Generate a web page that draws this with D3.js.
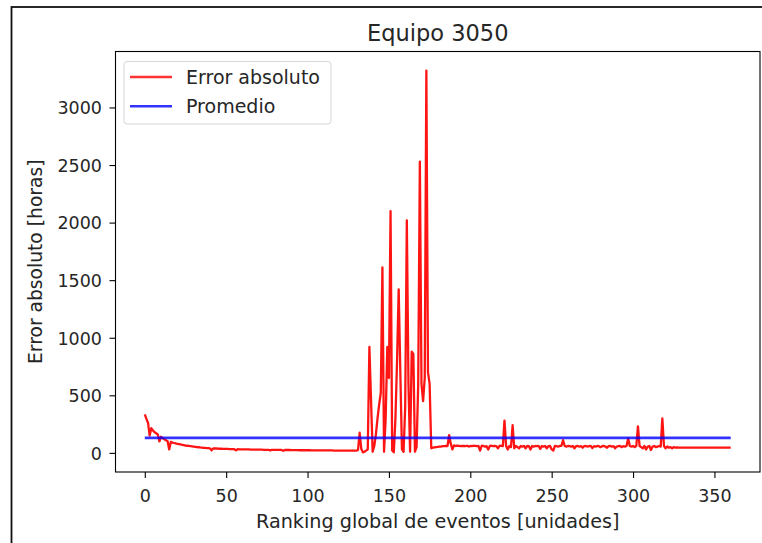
<!DOCTYPE html>
<html>
<head>
<meta charset="utf-8">
<script src="https://cdn.jsdelivr.net/npm/d3@7"></script>
<style>
  html, body { margin: 0; padding: 0; background: #fff; }
  svg { display: block; font-family: "DejaVu Sans", sans-serif; }
</style>
</head>
<body>
<svg id="chart" width="762" height="543"></svg>
<script>
// Absolute error per event, ordered by global ranking (index 0..360)
const errorAbsoluto = [
  335, 295, 260, 150, 215, 195, 180, 170, 160, 100,
  140, 128, 118, 110, 102, 30, 95, 90, 86, 82,
  79, 76, 73, 70, 67, 64, 62, 60, 58, 56,
  54, 52, 50, 49, 47, 46, 44, 43, 42, 41,
  40, 22, 39, 38, 38, 37, 36, 36, 35, 35,
  34, 34, 33, 33, 33, 32, 22, 32, 31, 31,
  31, 30, 30, 30, 30, 29, 29, 29, 29, 28,
  28, 28, 28, 27, 27, 27, 27, 20, 27, 26,
  26, 26, 26, 26, 26, 18, 25, 25, 25, 25,
  24, 24, 24, 24, 24, 23, 23, 23, 23, 23,
  23, 23, 22, 22, 22, 22, 22, 22, 22, 21,
  21, 21, 21, 21, 21, 21, 20, 20, 20, 20,
  20, 20, 20, 20, 20, 19, 19, 19, 19, 19,
  19, 25, 175, 35, 5, 10, 20, 30, 920, 460,
  10, 60, 160, 300, 420, 520, 1610, 10, 300, 920,
  650, 2100, 20, 5, 300, 800, 1420, 700, 30, 10,
  400, 2020, 600, 10, 880, 860, 10, 50, 600, 2530,
  600, 450, 650, 3320, 700, 600, 40, 45, 48, 50,
  52, 55, 55, 58, 58, 60, 60, 155, 80, 30,
  65, 60, 62, 60, 58, 60, 60, 58, 62, 55,
  60, 58, 62, 60, 58, 60, 20, 62, 60, 55,
  58, 30, 60, 62, 58, 60, 58, 40, 62, 60,
  58, 280, 60, 30, 60, 50, 240, 40, 60, 50,
  40, 60, 55, 60, 40, 60, 58, 30, 60, 55,
  60, 58, 60, 35, 60, 55, 60, 40, 58, 60,
  30, 20, 60, 58, 55, 60, 62, 110, 60, 55,
  60, 58, 55, 60, 40, 58, 60, 55, 58, 45,
  58, 60, 55, 58, 60, 42, 58, 55, 60, 58,
  50, 58, 60, 55, 45, 58, 60, 55, 58, 40,
  55, 58, 60, 50, 58, 55, 60, 125, 60, 55,
  60, 50, 60, 230, 60, 50, 40, 60, 30, 55,
  60, 25, 55, 60, 50, 55, 60, 55, 300, 60,
  40, 55, 45, 50, 40, 50, 45, 48, 45, 45,
  45, 45, 45, 45, 45, 45, 45, 45, 45, 45,
  45, 45, 45, 45, 45, 45, 45, 45, 45, 45,
  45, 45, 45, 45, 45, 45, 45, 45, 45, 45,
  45
];

// Mean absolute error (horizontal reference line)
const promedio = 130;

const xTicks = [0, 50, 100, 150, 200, 250, 300, 350];
const yTicks = [0, 500, 1000, 1500, 2000, 2500, 3000];
const legendLabels = ["Error absoluto", "Promedio"];
const titulo = "Equipo 3050";
const xLabel = "Ranking global de eventos [unidades]";
const yLabel = "Error absoluto [horas]";

const svg = d3.select("#chart");

// outer frame
svg.append("rect")
  .attr("x", 11.5).attr("y", 7)
  .attr("width", 800).attr("height", 600)
  .attr("fill", "none").attr("stroke", "#111").attr("stroke-width", 1.8);

const plot = { left: 115.5, right: 760, top: 51.5, bottom: 472 };

const n = errorAbsoluto.length;
const x = d3.scaleLinear().domain([-0.05 * (n - 1), 1.05 * (n - 1)]).range([plot.left, plot.right]);
const yMax = d3.max(errorAbsoluto), yMin = 0;
const yPad = 0.05 * (yMax - yMin);
const y = d3.scaleLinear().domain([yMin - yPad, yMax + yPad]).range([plot.bottom, plot.top]);

const tickFont = 17.5;

// x axis
const gx = svg.append("g")
  .attr("transform", `translate(0,${plot.bottom})`)
  .call(d3.axisBottom(x).tickValues(xTicks).tickSize(6).tickFormat(d3.format("d")));
gx.select(".domain").remove();
gx.selectAll("line").attr("stroke", "#000").attr("stroke-width", 1.1);
gx.selectAll("text")
  .attr("y", 30).attr("dy", null)
  .attr("fill", "#262626")
  .style("font-size", tickFont + "px")
  .style("font-family", "DejaVu Sans");

// y axis
const gy = svg.append("g")
  .attr("transform", `translate(${plot.left},0)`)
  .call(d3.axisLeft(y).tickValues(yTicks).tickSize(6).tickFormat(d3.format("d")));
gy.select(".domain").remove();
gy.selectAll("line").attr("stroke", "#000").attr("stroke-width", 1.1);
gy.selectAll("text")
  .attr("x", -13.5).attr("dy", "0.36em")
  .attr("fill", "#262626")
  .style("font-size", tickFont + "px")
  .style("font-family", "DejaVu Sans");

// clip region for the series
svg.append("clipPath").attr("id", "plotClip")
  .append("rect")
  .attr("x", plot.left).attr("y", plot.top)
  .attr("width", plot.right - plot.left).attr("height", plot.bottom - plot.top);

const line = d3.line().x((d, i) => x(i)).y(d => y(d));

svg.append("path")
  .datum(errorAbsoluto)
  .attr("clip-path", "url(#plotClip)")
  .attr("d", line)
  .attr("fill", "none")
  .attr("stroke", "#ff0000")
  .attr("stroke-opacity", 0.92)
  .attr("stroke-width", 2.3)
  .attr("stroke-linejoin", "round");

svg.append("line")
  .attr("x1", x(0)).attr("x2", x(n - 1))
  .attr("y1", y(promedio)).attr("y2", y(promedio))
  .attr("stroke", "#0000ff")
  .attr("stroke-opacity", 0.8)
  .attr("stroke-width", 2.7);

// spines
svg.append("rect")
  .attr("x", plot.left).attr("y", plot.top)
  .attr("width", plot.right - plot.left).attr("height", plot.bottom - plot.top)
  .attr("fill", "none").attr("stroke", "#000").attr("stroke-width", 1.1);

// title and axis labels
svg.append("text")
  .attr("x", (plot.left + plot.right) / 2).attr("y", 41)
  .attr("text-anchor", "middle")
  .attr("fill", "#262626")
  .style("font-size", "22.5px")
  .text(titulo);

svg.append("text")
  .attr("x", (plot.left + plot.right) / 2).attr("y", 528)
  .attr("text-anchor", "middle")
  .attr("fill", "#262626")
  .style("font-size", "19.2px")
  .text(xLabel);

svg.append("text")
  .attr("transform", `translate(42,${(plot.top + plot.bottom) / 2}) rotate(-90)`)
  .attr("text-anchor", "middle")
  .attr("fill", "#262626")
  .style("font-size", "18.7px")
  .text(yLabel);

// legend
const legend = svg.append("g").attr("transform", "translate(124,61.5)");
legend.append("rect")
  .attr("x", 0).attr("y", 0).attr("width", 207).attr("height", 62.5)
  .attr("rx", 3).attr("ry", 3)
  .attr("fill", "#fff").attr("fill-opacity", 0.8)
  .attr("stroke", "#d6d6d6").attr("stroke-width", 1);

const legendColors = ["#ff0000", "#0000ff"];
legendLabels.forEach((lab, i) => {
  const yy = 15.5 + i * 29.3;
  legend.append("line")
    .attr("x1", 6).attr("x2", 48).attr("y1", yy).attr("y2", yy)
    .attr("stroke", legendColors[i]).attr("stroke-opacity", 0.8).attr("stroke-width", 2.6);
  legend.append("text")
    .attr("x", 62).attr("y", yy).attr("dy", "0.36em")
    .attr("fill", "#262626")
    .style("font-size", "19px")
    .text(lab);
});
</script>
</body>
</html>
